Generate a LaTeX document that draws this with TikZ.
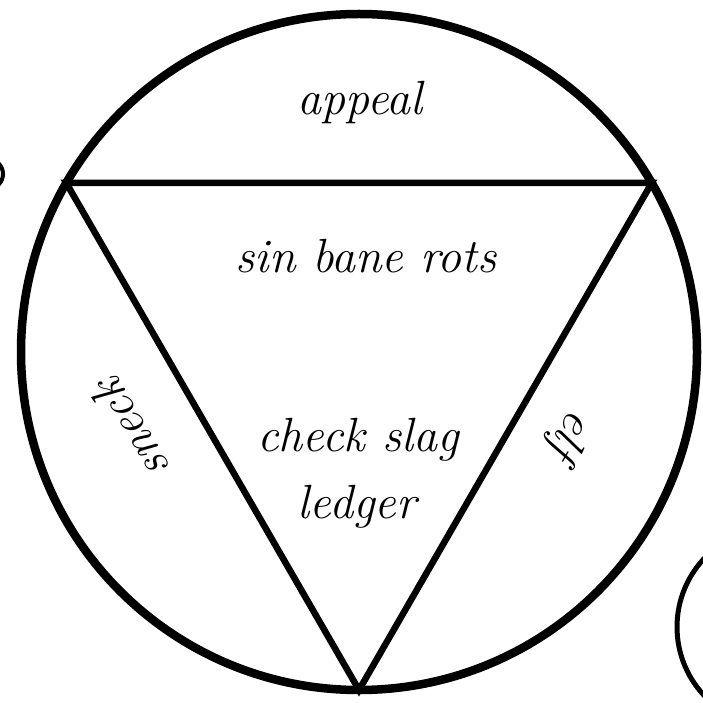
\documentclass[tikz,border=0pt]{standalone}
\usepackage{tikz}
\usetikzlibrary{calc}

\begin{document}
\begin{tikzpicture}[
    x=1pt, y=1pt,
    ring/.style={line width=8.5pt},
    tri/.style={line width=6.5pt, line join=miter},
    handtext/.style={font=\fontsize{48}{56}\selectfont\itshape, inner sep=0pt},
]
    \useasboundingbox (0, 0) rectangle (703, 702);

    % Outer circle
    \coordinate (O) at (359, 350);
    \draw[ring] (O) circle (338);

    % Inscribed triangle
    \coordinate (tl) at ($(O) + (150:338)$);
    \coordinate (tr) at ($(O) + (30:338)$);
    \coordinate (bt) at ($(O) + (270:338)$);
    \draw[tri] (tl) -- (tr) -- (bt) -- cycle;

    % Pieces of neighbouring shapes
    \draw[line width=4pt] (-12, 528) circle (15);
    \draw[line width=5pt] (777, 75) circle (100);

    % Texts
    \node[handtext] (appeal) at (360, 599) {appeal};
    \node[handtext] (rots) at (366, 446) {sin bane rots};
    \node[handtext] (slag) at (358, 262) {check slag};
    \node[handtext] (ledger) at (357, 195) {ledger};
    \node[handtext, rotate=120] (sneck) at (130, 272) {sneck};
    \node[handtext, rotate=-120] (elf) at (570, 268) {elf};
\end{tikzpicture}
\end{document}
